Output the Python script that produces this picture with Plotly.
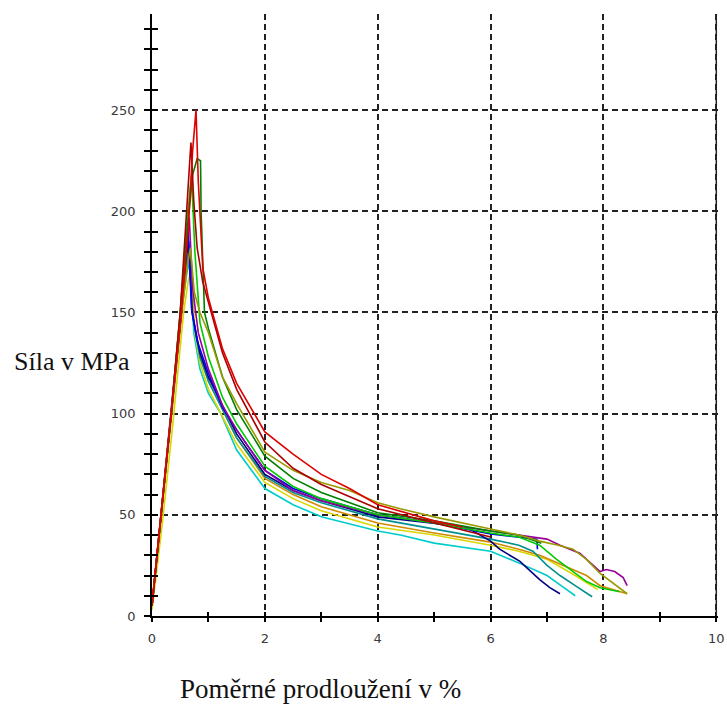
import plotly.graph_objects as go

# ---------------- data ----------------
cyan_x = [0, 0.16, 0.34, 0.52, 0.62, 0.68, 0.74, 0.85, 1.0, 1.22, 1.5, 2.0, 2.5, 3.0, 4.0, 4.4, 5.0, 6.0, 6.52, 7.0, 7.25, 7.5]
cyan_y = [5, 50, 100, 150, 170, 176, 140, 122, 110, 100, 82, 63, 55, 49, 42, 40, 36, 32, 26, 20, 15, 10]

yellow_x = [0, 0.18, 0.37, 0.56, 0.64, 0.70, 0.76, 0.85, 1.0, 1.5, 2.0, 2.5, 3.0, 4.0, 5.0, 6.0, 6.5, 7.0, 7.5, 7.9]
yellow_y = [3, 45, 95, 150, 165, 172, 140, 125, 112, 85, 66, 58, 52, 44, 40, 35, 32, 28, 20, 13]

orange_x = [0, 0.17, 0.35, 0.53, 0.62, 0.67, 0.73, 0.85, 1.0, 1.5, 2.0, 2.5, 3.0, 4.0, 5.0, 6.0, 6.5, 6.87, 7.3, 7.7, 7.94, 8.2, 8.42]
orange_y = [5, 50, 100, 150, 172, 180, 148, 128, 116, 88, 68, 60, 54, 46, 41, 36.5, 33, 30, 25, 20, 15, 13, 11]

teal_x = [0, 0.16, 0.34, 0.52, 0.61, 0.66, 0.72, 0.85, 1.0, 1.5, 2.0, 2.5, 3.0, 4.0, 5.0, 6.0, 6.5, 6.75, 7.0, 7.23, 7.5, 7.8]
teal_y = [5, 50, 100, 150, 174, 182, 148, 128, 116, 88, 69, 61, 56, 48, 43, 38, 35, 32, 25, 20, 15, 9.5]

navy_x = [0, 0.16, 0.34, 0.52, 0.6, 0.65, 0.71, 0.85, 1.0, 1.5, 2.0, 2.5, 3.0, 4.0, 5.0, 5.57, 6.0, 6.16, 6.52, 6.87, 7.05, 7.23]
navy_y = [5, 50, 100, 150, 176, 185, 150, 130, 118, 90, 70, 62, 57, 49, 46, 44, 37, 33, 27, 18, 14, 11]

blue_x = [0, 0.16, 0.34, 0.52, 0.6, 0.64, 0.7, 0.8, 1.0, 1.25, 1.5, 2.0, 2.5, 3.0, 4.0, 5.0, 6.0, 6.5, 6.82, 6.83]
blue_y = [5, 50, 100, 150, 178, 190, 152, 136, 120, 103, 92, 72, 63, 58, 50, 46, 40.5, 39, 38, 33]

purple_x = [0, 0.16, 0.34, 0.52, 0.6, 0.66, 0.72, 0.82, 1.0, 1.25, 1.5, 2.0, 2.5, 3.0, 4.0, 5.0, 6.0, 6.5, 7.0, 7.23, 7.58, 7.82, 7.94, 8.05, 8.2, 8.35, 8.42]
purple_y = [5, 50, 100, 150, 182, 197, 162, 140, 122, 104, 92, 72, 62, 57, 50, 46, 42, 40, 38, 35, 31, 25, 22, 23, 22, 19, 15]

lime_x = [0, 0.16, 0.34, 0.5, 0.62, 0.7, 0.76, 0.85, 1.0, 1.25, 1.5, 2.0, 2.5, 3.0, 4.0, 5.0, 6.0, 6.5, 6.87, 7.17, 7.45, 7.7, 7.94, 8.29]
lime_y = [5, 50, 100, 150, 195, 218, 180, 145, 128, 108, 95, 74, 64, 58, 50, 46, 41, 39, 35, 28, 22, 17, 14, 12]

green_x = [0, 0.16, 0.34, 0.5, 0.62, 0.72, 0.8, 0.86, 0.87, 0.93, 1.0, 1.25, 1.5, 2.0, 2.5, 3.0, 4.0, 5.0, 6.0, 6.5, 6.9]
green_y = [5, 50, 100, 150, 190, 218, 226, 225, 200, 150, 142, 118, 102, 79, 68, 61, 51, 47, 42, 40, 36]

olive_x = [0, 0.16, 0.34, 0.52, 0.62, 0.68, 0.75, 0.85, 1.0, 1.25, 1.5, 2.0, 2.5, 3.0, 3.5, 4.0, 4.4, 5.0, 6.0, 6.5, 6.87, 7.2, 7.46, 7.7, 7.94, 8.17, 8.42]
olive_y = [5, 50, 100, 150, 172, 182, 160, 150, 140, 118, 105, 81, 72, 66, 62, 56, 53, 49, 43, 40, 37, 35, 33, 28, 21, 16, 11]

darkred_x = [0, 0.16, 0.34, 0.5, 0.62, 0.69, 0.74, 0.8, 0.9, 1.0, 1.25, 1.5, 2.0, 2.5, 3.0, 4.0, 5.0, 6.0]
darkred_y = [5, 50, 100, 150, 200, 234, 205, 182, 165, 155, 130, 112, 86, 73, 65, 53, 46, 39]

red_x = [0, 0.16, 0.34, 0.52, 0.64, 0.72, 0.78, 0.82, 0.9, 1.0, 1.25, 1.5, 2.0, 2.5, 3.0, 3.5, 4.0, 4.5, 5.0, 5.5]
red_y = [6, 50, 100, 150, 190, 230, 250, 215, 172, 157, 132, 115, 91, 80, 70, 63, 55, 51, 47, 44]

series = [
    (cyan_x, cyan_y, "#00cccc"),
    (yellow_x, yellow_y, "#d8d800"),
    (orange_x, orange_y, "#d08a00"),
    (teal_x, teal_y, "#009090"),
    (navy_x, navy_y, "#000080"),
    (blue_x, blue_y, "#0000ee"),
    (purple_x, purple_y, "#990099"),
    (lime_x, lime_y, "#00cc00"),
    (green_x, green_y, "#008000"),
    (olive_x, olive_y, "#999900"),
    (darkred_x, darkred_y, "#aa0000"),
    (red_x, red_y, "#e00000"),
]

x_tickvals = [0, 2, 4, 6, 8, 10]
y_tickvals = [0, 50, 100, 150, 200, 250]
x_title = "Poměrné prodloužení v %"
y_title = "Síla v MPa"

# ---------------- figure ----------------
fig = go.Figure()
for xs, ys, col in series:
    fig.add_trace(go.Scatter(x=xs, y=ys, mode="lines",
                             line=dict(color=col, width=1.6),
                             showlegend=False, hoverinfo="skip"))

tickfont = dict(family="DejaVu Sans", size=13, color="#3a3a3a")
GRID_COLOR = "#222222"
GRID_DASH = "6px,4px"
grid = dict(showgrid=True, gridcolor=GRID_COLOR, gridwidth=1.5, griddash=GRID_DASH)

X_RANGE = [0, 10.03]
Y_RANGE = [0, 297.5]

fig.update_layout(
    width=727, height=706, autosize=False,
    margin=dict(l=152, r=9, t=14, b=90, autoexpand=False),
    plot_bgcolor="white", paper_bgcolor="white",
    xaxis=dict(range=X_RANGE, tickvals=x_tickvals, ticktext=[str(v) for v in x_tickvals],
               ticks="outside", ticklen=4, tickwidth=1.5, tickcolor="black",
               minor=dict(dtick=1, tick0=0, ticks="outside", ticklen=4, tickwidth=1.5, tickcolor="black", showgrid=False),
               showline=True, linecolor="black", linewidth=1.5, zeroline=False, automargin=False,
               tickfont=tickfont, ticklabelstandoff=6, **grid),
    yaxis=dict(range=Y_RANGE, tickvals=y_tickvals, ticktext=[str(v) for v in y_tickvals],
               ticks="outside", ticklen=6, tickwidth=1.5, tickcolor="black",
               minor=dict(dtick=10, tick0=0, ticks="outside", ticklen=6, tickwidth=1.5, tickcolor="black", showgrid=False),
               showline=True, linecolor="black", linewidth=1.5, zeroline=False, automargin=False,
               tickfont=tickfont, ticklabelstandoff=6, **grid),
    xaxis2=dict(range=X_RANGE, overlaying="x", side="bottom", showgrid=False, zeroline=False, automargin=False,
                tickvals=x_tickvals, showticklabels=False, ticks="inside", ticklen=4, tickwidth=1.5, tickcolor="black",
                minor=dict(dtick=1, tick0=0, ticks="inside", ticklen=4, tickwidth=1.5, tickcolor="black"),
                showline=False),
    yaxis2=dict(range=Y_RANGE, overlaying="y", side="left", showgrid=False, zeroline=False, automargin=False,
                tickvals=y_tickvals, showticklabels=False, ticks="inside", ticklen=6, tickwidth=1.5, tickcolor="black",
                minor=dict(dtick=10, tick0=0, ticks="inside", ticklen=6, tickwidth=1.5, tickcolor="black"),
                showline=False),
    annotations=[
        dict(text=y_title, xref="paper", yref="paper", x=-0.142, y=0.423,
             showarrow=False, xanchor="center", yanchor="middle",
             font=dict(family="Liberation Serif", size=26, color="#111111")),
        dict(text=x_title, xref="paper", yref="paper", x=0.298, y=-0.122,
             showarrow=False, xanchor="center", yanchor="middle",
             font=dict(family="Liberation Serif", size=27, color="#111111")),
    ],
)
# the last vertical grid line (at the axis end) is clipped by plotly; draw it as a shape
fig.add_shape(type="line", xref="x", yref="paper", x0=x_tickvals[-1], x1=x_tickvals[-1], y0=0, y1=1,
              line=dict(color=GRID_COLOR, width=1.5, dash=GRID_DASH), layer="above")
# invisible anchor trace so the overlay axes are rendered
fig.add_trace(go.Scatter(x=[None], y=[None], xaxis="x2", yaxis="y2", showlegend=False, hoverinfo="skip"))

fig.write_html("out.html")
